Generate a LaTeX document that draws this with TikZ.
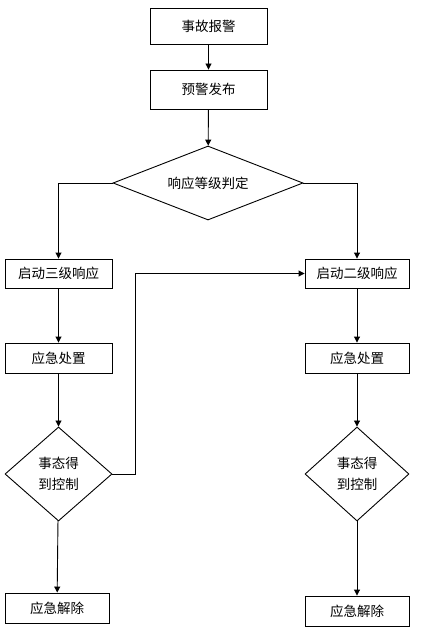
\documentclass[tikz,border=0pt]{standalone}
\usepackage{fontspec}
\setmainfont{Noto Sans CJK SC}
\usetikzlibrary{shapes.geometric,arrows.meta}
\begin{document}
\begin{tikzpicture}[x=1bp,y=-1bp,line width=0.9bp,
	every node/.style={font=\fontsize{13.5bp}{21bp}\selectfont,inner sep=0pt,align=center},
	stepbox/.style={draw=black,rectangle,minimum width=#1},
	stepbox/.default=107bp,
	choice/.style={draw=black,diamond},
	flow/.style={draw=black,-{Triangle[length=6bp,width=6bp]}}]
	\useasboundingbox (0,0) rectangle (423,634);
	% main line
	\node [stepbox=117bp,minimum height=36bp] (alarm) at (208.5,26) {事故报警};
	\node [stepbox=117bp,minimum height=39bp] (release) at (208.5,89.5) {预警发布};
	\node [choice,aspect=2.5,minimum width=190bp,minimum height=74bp] (judge) at (208,183) {响应等级判定};
	% left branch
	\node [stepbox,minimum height=29bp] (lvthree) at (58.5,273.5) {启动三级响应};
	\node [stepbox,minimum height=30bp] (dispL) at (58.5,358) {应急处置};
	\node [choice,minimum width=107bp,minimum height=94bp] (ctrlL) at (58.5,474) {事态得\\到控制};
	\node [stepbox=104bp,minimum height=30bp] (endL) at (57,608) {应急解除};
	% right branch
	\node [stepbox=104bp,minimum height=29bp] (lvtwo) at (357,273.5) {启动二级响应};
	\node [stepbox=104bp,minimum height=30bp] (dispR) at (357,358) {应急处置};
	\node [choice,minimum width=104bp,minimum height=94bp] (ctrlR) at (357,474) {事态得\\到控制};
	\node [stepbox=104bp,minimum height=30bp] (endR) at (357,611) {应急解除};
	% connectors
	\draw [flow] (alarm) -- (release);
	\draw [flow] (release) -- (judge);
	\draw [flow] (judge.west) -| (lvthree.north);
	\draw [flow] (judge.east) -| (lvtwo.north);
	\draw [flow] (lvthree) -- (dispL);
	\draw [flow] (dispL) -- (ctrlL);
	\draw [flow] (ctrlL) -- (endL);
	\draw [flow] (ctrlL.east) -- ++(23,0) |- (lvtwo.west);
	\draw [flow] (lvtwo) -- (dispR);
	\draw [flow] (dispR) -- (ctrlR);
	\draw [flow] (ctrlR) -- (endR);
\end{tikzpicture}
\end{document}
